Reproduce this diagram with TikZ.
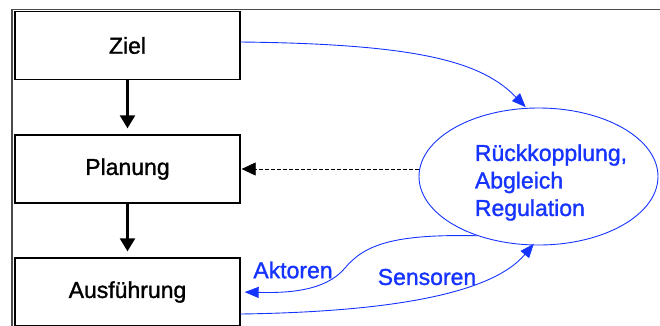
\documentclass[tikz,border=0pt]{standalone}
\usepackage{fontspec}
\setmainfont[FakeBold=1.3]{Liberation Sans}
\usetikzlibrary{arrows.meta,shapes.geometric,calc}
\definecolor{fbblue}{RGB}{22,52,255}
\begin{document}
\begin{tikzpicture}[x=1pt,y=-1pt,
  every node/.style={font=\fontsize{23}{27.5}\selectfont},
  stepbox/.style={draw=black,line width=1.3pt,minimum width=225pt,minimum height=68pt,inner sep=0pt},
  downarrow/.style={line width=2.2pt,-{Triangle[length=13pt,width=15pt]},shorten >=6pt},
  bluearrow/.style={draw=fbblue,line width=0.9pt,-{Triangle[length=14pt,width=11pt]}},
  bluetext/.style={text=fbblue,inner sep=0pt}]
\useasboundingbox (0,0) rectangle (660,325);
\clip (0,0) rectangle (660,325);

% frame lines
\draw[gray!60!black,line width=1.2pt] (12,330) -- (12,9.5) -- (665,9.5);

% process boxes
\node[stepbox] (ziel) at (127.5,45.5) {Ziel};
\node[stepbox] (plan) at (127.5,169) {Planung};
\node[stepbox] (ausf) at (127.5,292) {Ausführung};

% feedback ellipse
\node[ellipse,draw=fbblue,line width=0.9pt,minimum width=239pt,minimum height=137pt,inner sep=0pt] (fb) at (538.5,176.5) {};
\node[bluetext,align=left,anchor=center] (fbtext) at (551,182.5) {Rückkopplung,\\Abgleich\\Regulation};

% main flow
\draw[downarrow] (ziel.south) -- (plan.north);
\draw[downarrow] (plan.south) -- (ausf.north);

% feedback to planning
\draw[line width=0.8pt,dash pattern=on 4pt off 2pt,-{Triangle[length=14pt,width=13pt]},shorten >=1pt]
  (fb.west |- plan.east) -- (plan.east);

% goal into feedback
\draw[bluearrow,shorten >=1pt] ($(ziel.east)+(0,-3.5)$) .. controls (420,44) and (482,62) .. (fb.100);

% actuators
\draw[bluearrow,shorten >=4pt] (fb.224) .. controls (395,234) and (365,244) .. (345,268)
  .. controls (325,292) and (285,293) .. (ausf.east);

% sensors
\draw[bluearrow,shorten >=-2pt] ($(ausf.east)+(0,22)$) .. controls (380,312) and (490,296) .. (fb.265);

\node[bluetext] (akt) at (293,270) {Aktoren};
\node[bluetext] (sens) at (427,277) {Sensoren};
\end{tikzpicture}
\end{document}
